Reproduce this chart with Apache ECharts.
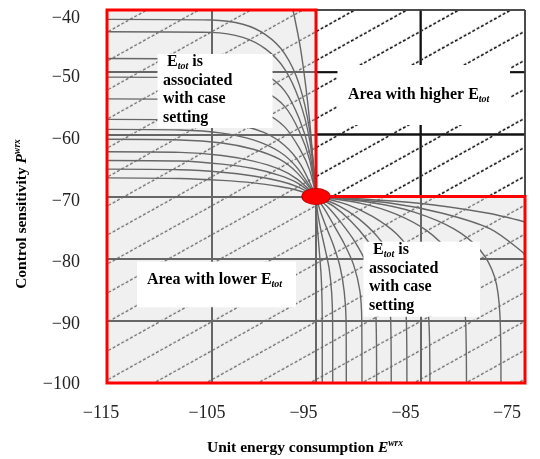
<!DOCTYPE html>
<html><head><meta charset="utf-8">
<script src="https://cdn.jsdelivr.net/npm/echarts@6/dist/echarts.min.js"></script>
<style>html,body{margin:0;padding:0;background:#fff}#c{width:540px;height:459px}</style>
</head><body><div id="c"></div>
<script>
// ---------- data ----------
const xRange = [-115, -75];
const yRange = [-100, -40];
const tickStep = 10;
const optimumPoint = [-95, -70];
const lowerRegion = [[-115,-100],[-115,-40],[-95,-40],[-95,-70],[-75,-70],[-75,-100]];
const higherRegion = [[-95,-70],[-95,-40],[-75,-40],[-75,-70]];
const higherGridLines = [[[-85,-70],[-85,-40]],[[-95,-50],[-75,-50]],[[-95,-60],[-75,-60]]];
const higherFrame = [[[-95,-40],[-75,-40]],[[-75,-40],[-75,-70]]];

const upperLeftCurves = [
  [[-97.2,-40],[-96.5,-46],[-96,-52],[-95.6,-58],[-95.3,-64],[-95,-70]],
  [[-115,-41.5],[-105,-41.6],[-102,-42.3],[-99.8,-44],[-98,-47],[-96.6,-52],[-95.6,-59.5],[-95,-70]],
  [[-115,-43.5],[-105,-43.6],[-102,-44.4],[-99.8,-46.3],[-98,-49.5],[-96.6,-54.5],[-95.6,-61],[-95,-70]],
  [[-115,-47.8],[-106,-47.9],[-102.5,-48.6],[-100,-50.2],[-98,-53],[-96.6,-57.5],[-95.6,-63],[-95,-70]],
  [[-115,-50.8],[-106,-50.9],[-102.5,-51.6],[-100,-53],[-98,-55.5],[-96.6,-59.5],[-95.6,-64.2],[-95,-70]],
  [[-115,-54.3],[-107,-54.4],[-103,-55],[-100,-56.5],[-98,-58.8],[-96.5,-62.5],[-95.6,-65.8],[-95,-70]],
  [[-115,-57.6],[-107,-57.7],[-103,-58.3],[-100,-59.7],[-98,-61.8],[-96.5,-64.8],[-95,-70]],
  [[-115,-59.2],[-108,-59.3],[-104,-59.8],[-101,-60.9],[-98.5,-62.8],[-96.8,-65.4],[-95,-70]],
  [[-115,-60.8],[-108,-60.9],[-104,-61.4],[-101,-62.4],[-98.5,-64.0],[-96.8,-66.2],[-95,-70]],
  [[-115,-62.8],[-108,-62.9],[-104,-63.4],[-101,-64.3],[-98.5,-65.6],[-96.8,-67.2],[-95,-70]],
  [[-115,-64.2],[-108,-64.3],[-104,-64.8],[-101,-65.5],[-98.5,-66.6],[-96.8,-67.8],[-95,-70]],
  [[-115,-65.6],[-108,-65.7],[-104,-66.1],[-101,-66.7],[-98.5,-67.5],[-96.8,-68.4],[-95,-70]],
  [[-115,-67.0],[-108,-67.1],[-104,-67.4],[-101,-67.8],[-98.5,-68.4],[-96.8,-69],[-95,-70]]
];

const lowerRightCurves = [
  [[-95,-70],[-85.4,-71.05],[-78.5,-72.7],[-75,-74.1]],
  [[-95,-70],[-87.96,-71.05],[-82.9,-72.7],[-78.28,-75.25],[-75.2,-79],[-75,-79.6]],
  [[-95,-70],[-89.6,-71.0],[-85.6,-72.5],[-81.8,-75.2],[-79.3,-78.6],[-77.9,-83],[-77.4,-89],[-77.3,-100]],
  [[-95,-70],[-90.7,-71.1],[-87.4,-72.8],[-84.4,-75.5],[-82.3,-79],[-81.1,-83.5],[-80.7,-89.5],[-80.6,-100]],
  [[-95,-70],[-92.0,-71.3],[-89.6,-73.2],[-87.3,-76],[-85.6,-79.8],[-84.6,-84.5],[-84.2,-90],[-84.1,-100]],
  [[-95,-70],[-92.8,-71.5],[-90.9,-73.6],[-89.1,-76.5],[-87.6,-80.2],[-86.7,-84.8],[-86.35,-90],[-86.3,-100]],
  [[-95,-70],[-93.3,-71.6],[-91.7,-73.9],[-90.2,-76.8],[-88.9,-80.4],[-88.1,-85],[-87.85,-90],[-87.8,-100]],
  [[-95,-70],[-93.8,-71.8],[-92.6,-74.2],[-91.3,-77.2],[-90.2,-80.7],[-89.5,-85],[-89.25,-90],[-89.2,-100]],
  [[-95,-70],[-94.2,-72],[-93.3,-74.6],[-92.3,-77.6],[-91.4,-81],[-90.8,-85.2],[-90.62,-90],[-90.6,-100]],
  [[-95,-70],[-94.6,-72.3],[-94.0,-75],[-93.3,-78],[-92.7,-81.3],[-92.3,-85.3],[-92.12,-90],[-92.1,-100]],
  [[-95,-70],[-94.85,-72.5],[-94.55,-75.3],[-94.15,-78.3],[-93.75,-81.5],[-93.5,-85.5],[-93.41,-90],[-93.4,-100]],
  [[-95,-70],[-94.95,-73],[-94.82,-76],[-94.65,-79.5],[-94.5,-83],[-94.42,-87],[-94.4,-92],[-94.4,-100]]
];

const xTitle = ['Unit energy consumption ', 'E', 'wrx'];
const yTitle = ['Control sensitivity ', 'P', 'wrx'];
const caseText = ['associated', 'with case', 'setting'];
const higherText = 'Area with higher ';
const lowerText = 'Area with lower ';

// ---------- helpers ----------
const SERIF = '"Liberation Serif", "Times New Roman", serif';
function makeHatch(bg, fg, lw) {
  const c = document.createElement('canvas');
  c.width = 52; c.height = 29;
  const ctx = c.getContext('2d');
  ctx.fillStyle = bg; ctx.fillRect(0, 0, 52, 29);
  ctx.strokeStyle = fg; ctx.lineWidth = lw;
  ctx.setLineDash([3, 1.9617]);
  for (let k = -1; k <= 1; k++) {
    ctx.beginPath();
    ctx.moveTo(-52, 58 + 29 * k);
    ctx.lineTo(104, -29 + 29 * k);
    ctx.stroke();
  }
  return c;
}
const grayPattern = {image: makeHatch('#f0f0f0', '#555555', 1.1), repeat: 'repeat', x: 0, y: 4.8};
const whitePattern = {image: makeHatch('#ffffff', '#000000', 1.5), repeat: 'repeat', x: 0, y: 4.8};
const minus = v => String(v).replace('-', '\u2212');

// label nudges (style only)
const xLabelPad = {'-115': 12, '-105': 9, '-95': 25, '-85': 30, '-75': 36};
const yLabelLH = {'-40': 16, '-50': 11, '-60': 10, '-70': 9, '-80': 8, '-90': 6, '-100': 2};
const xRich = {}, yRich = {};
Object.keys(xLabelPad).forEach((k, i) => { xRich['x' + i] = {padding: [0, xLabelPad[k], 0, 0], fontFamily: 'Liberation Serif', fontSize: 18, color: '#222'}; });
Object.keys(yLabelLH).forEach((k, i) => { yRich['y' + i] = {lineHeight: yLabelLH[k], fontFamily: 'Liberation Serif', fontSize: 18, color: '#222'}; });
const xKeys = Object.keys(xLabelPad), yKeys = Object.keys(yLabelLH);

const boxRich = {
  b: {fontFamily: SERIF, fontWeight: 'bold', fontSize: 16, lineHeight: 18.5, fill: '#000'},
  s: {fontFamily: SERIF, fontWeight: 'bold', fontStyle: 'italic', fontSize: 10, lineHeight: 12, verticalAlign: 'bottom', fill: '#000'}
};
const titleRich = {
  t: {fontFamily: SERIF, fontWeight: 'bold', fontSize: 15.5, lineHeight: 18, fill: '#000'},
  i: {fontFamily: SERIF, fontWeight: 'bold', fontStyle: 'italic', fontSize: 15.5, lineHeight: 18, fill: '#000'},
  p: {fontFamily: SERIF, fontWeight: 'bold', fontStyle: 'italic', fontSize: 9.5, lineHeight: 10, verticalAlign: 'top', fill: '#000'}
};
const caseStr = '{b| E}{s|tot}{b| is}\n' + caseText.map(t => '{b|' + t + '}').join('\n');

const series = [];
series.push({
  type: 'custom', z: 1, silent: true, clip: false, animation: false,
  data: [optimumPoint],
  renderItem: (params, api) => ({
    type: 'group', children: [
      {type: 'polygon', shape: {points: lowerRegion.map(p => api.coord(p))}, style: {fill: grayPattern}},
      {type: 'polygon', shape: {points: higherRegion.map(p => api.coord(p))}, style: {fill: whitePattern}}
    ]
  })
});
series.push({
  type: 'custom', z: 4, silent: true, clip: false, animation: false,
  data: [optimumPoint],
  renderItem: (params, api) => {
    const ch = [];
    higherGridLines.forEach(s => { const a = api.coord(s[0]), b = api.coord(s[1]);
      ch.push({type: 'line', shape: {x1: a[0], y1: a[1], x2: b[0], y2: b[1]}, style: {stroke: '#111', lineWidth: 2}}); });
    higherFrame.forEach(s => { const a = api.coord(s[0]), b = api.coord(s[1]);
      ch.push({type: 'line', shape: {x1: a[0], y1: a[1], x2: b[0], y2: b[1]}, style: {stroke: '#444', lineWidth: 1.5}}); });
    return {type: 'group', children: ch};
  }
});
upperLeftCurves.concat(lowerRightCurves).forEach(c => series.push({
  type: 'line', z: 5, data: c, showSymbol: false, symbol: 'none', smooth: 0.3, silent: true, animation: false,
  lineStyle: {color: '#676767', width: 1.4}
}));
series.push({
  type: 'custom', z: 6, silent: true, clip: false, animation: false,
  data: [optimumPoint],
  renderItem: (params, api) => ({
    type: 'polygon', shape: {points: lowerRegion.map(p => api.coord(p))},
    style: {fill: 'none', stroke: '#ff0000', lineWidth: 3, lineJoin: 'miter'}
  })
});
series.push({
  type: 'scatter', z: 7, data: [optimumPoint], symbol: 'circle', symbolSize: [28, 16], silent: true, animation: false,
  itemStyle: {color: '#ff0000', borderColor: '#c00000', borderWidth: 1, opacity: 1}
});

const graphic = [
  {type: 'rect', z: 100, shape: {x: 157.5, y: 54, width: 115, height: 74}, style: {fill: '#fff'}},
  {type: 'text', z: 101, x: 163, y: 53, style: {text: caseStr, rich: boxRich, verticalAlign: 'top', align: 'left'}},
  {type: 'rect', z: 100, shape: {x: 337.5, y: 65, width: 172.5, height: 60}, style: {fill: '#fff'}},
  {type: 'text', z: 101, x: 348, y: 86, style: {text: '{b|' + higherText + 'E}{s|tot}', rich: boxRich, verticalAlign: 'top', align: 'left'}},
  {type: 'rect', z: 100, shape: {x: 137, y: 261.7, width: 159, height: 45.6}, style: {fill: '#fff'}},
  {type: 'text', z: 101, x: 147, y: 271, style: {text: '{b|' + lowerText + 'E}{s|tot}', rich: boxRich, verticalAlign: 'top', align: 'left'}},
  {type: 'rect', z: 100, shape: {x: 363.5, y: 241.7, width: 116.5, height: 75}, style: {fill: '#fff'}},
  {type: 'text', z: 101, x: 369, y: 240.7, style: {text: caseStr, rich: boxRich, verticalAlign: 'top', align: 'left'}},
  {type: 'text', z: 101, x: 305, y: 448, style: {text: '{t|' + xTitle[0] + '}{i|' + xTitle[1] + '}{p|' + xTitle[2] + '}', rich: titleRich, align: 'center', verticalAlign: 'middle'}},
  {type: 'text', z: 101, x: 22, y: 214, rotation: Math.PI / 2, style: {text: '{t|' + yTitle[0] + '}{i|' + yTitle[1] + '}{p|' + yTitle[2] + '}', rich: titleRich, align: 'center', verticalAlign: 'middle'}}
];

const chart = echarts.init(document.getElementById('c'), null, {renderer: 'canvas'});
chart.setOption({
  animation: false,
  backgroundColor: '#fff',
  grid: {left: 107, right: 15, top: 10, bottom: 76, containLabel: false},
  xAxis: {
    type: 'value', min: xRange[0], max: xRange[1], interval: tickStep, z: 3,
    axisLine: {show: false}, axisTick: {show: false},
    splitLine: {show: true, lineStyle: {color: '#666', width: 2}},
    axisLabel: {
      formatter: v => { const i = xKeys.indexOf(String(v)); return '{x' + i + '|' + minus(v) + '}'; },
      rich: xRich, fontFamily: 'Liberation Serif', fontSize: 18, color: '#222', margin: 21
    }
  },
  yAxis: {
    type: 'value', min: yRange[0], max: yRange[1], interval: tickStep, z: 3,
    axisLine: {show: false}, axisTick: {show: false},
    splitLine: {show: true, lineStyle: {color: '#666', width: 2}},
    axisLabel: {
      formatter: v => { const i = yKeys.indexOf(String(v)); return '{y' + i + '|' + minus(v) + '}'; },
      rich: yRich, verticalAlign: 'top', fontFamily: 'Liberation Serif', fontSize: 18, color: '#222', margin: 27
    }
  },
  series: series,
  graphic: graphic
});
</script></body></html>
